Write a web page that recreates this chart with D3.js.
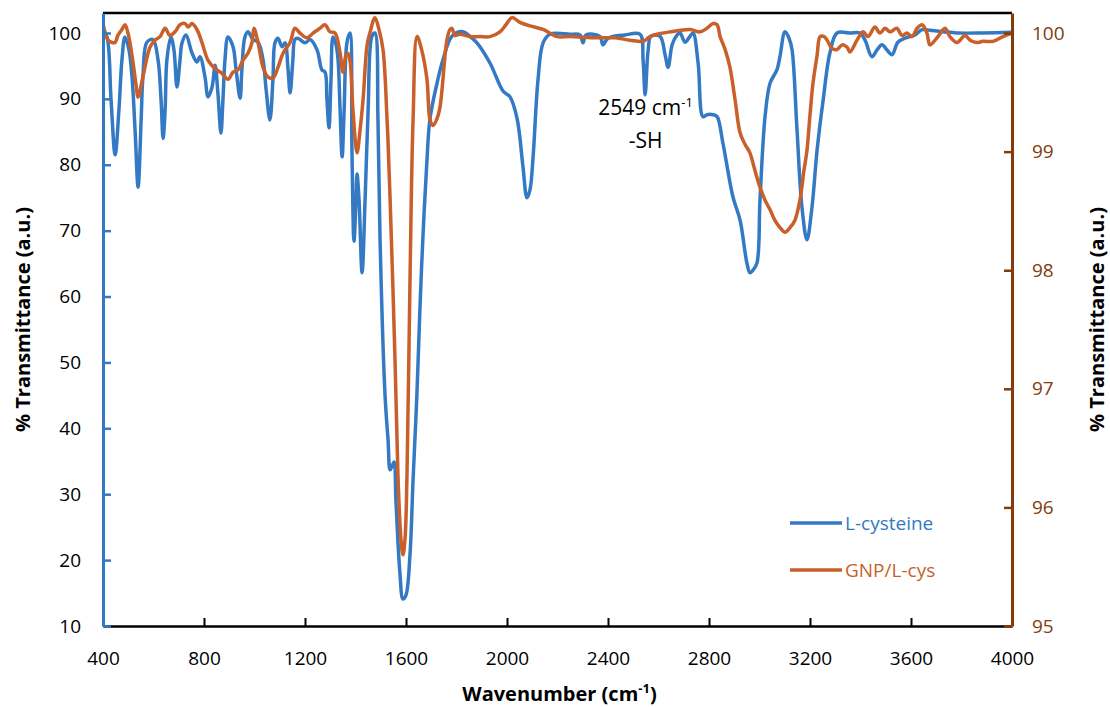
<!DOCTYPE html>
<html>
<head>
<meta charset="utf-8">
<script src="https://cdn.jsdelivr.net/npm/d3@7"></script>
<style>
  body { margin: 0; background: #fff; }
  text { font-family: "Open Sans", "Noto Sans", sans-serif; }
</style>
</head>
<body>
<div id="ftir"></div>
<script>
// FTIR spectra: L-cysteine (left axis) and GNP/L-cys (right axis)

// L-cysteine
const cysWave = [400,416,432,448,463,475,487,503,515,527,539,551,558,574,598,618,630,638,646,653,669,681,693,705,713,729,752,772,784,804,816,832,844,855,867,875,883,895,915,927,943,950,962,974,994,1014,1034,1046,1061,1073,1081,1093,1109,1121,1133,1141,1152,1160,1172,1200,1220,1248,1267,1279,1287,1295,1303,1311,1323,1331,1339,1347,1355,1366,1378,1386,1394,1402,1406,1414,1426,1438,1450,1465,1477,1489,1497,1517,1529,1537,1545,1553,1560,1576,1588,1600,1616,1628,1643,1655,1667,1683,1695,1723,1747,1782,1826,1853,1881,1933,1984,2012,2040,2063,2079,2091,2103,2123,2143,2170,2249,2289,2301,2313,2368,2380,2400,2467,2527,2539,2547,2559,2570,2606,2626,2638,2654,2670,2685,2705,2725,2737,2757,2776,2792,2816,2832,2855,2895,2923,2950,2962,2974,2990,3002,3022,3042,3069,3081,3101,3117,3129,3148,3168,3188,3208,3228,3252,3279,3307,3358,3398,3418,3445,3465,3485,3505,3525,3548,3576,3616,3644,3675,3727,3782,3885,4000];
const cysT = [100.5,99.4,89.8,81.5,88.3,95.9,99.4,97.4,93.3,85.3,76.6,86.8,93.3,98.6,99,95.9,89.8,84,88.3,95.9,99.4,97.4,91.8,95.9,98.5,99.7,97,95.6,96.4,93.3,90.3,91.8,95.1,90.9,84.8,89.8,95.9,99.4,97.9,94.4,90.1,94.4,99.4,100.2,99,98.6,95.9,91.4,86.8,92.9,98.5,99.2,97.9,98.5,94.4,90.9,95.9,99,99.2,98.5,99,97.4,94.4,94.1,89.8,85.6,92.9,99.4,98.2,95.9,88.3,81.2,88.3,98.5,100,82,68.4,74.7,78.6,74.7,63.6,74.7,88.3,99.5,100,86.8,69,45,38.2,33.7,34.3,34.9,29.1,18,14.1,14.7,21,32.2,45,58,69,80.7,87,92.4,96,99.5,100.2,99.5,98.5,95.4,91.2,90.3,87,79.8,75,76.2,81,93,98.5,99.8,99.8,99.7,98.5,99.7,99.5,98.2,99.2,99.7,99.8,95.9,90.6,97.4,99.5,99.5,96.7,94.8,98.2,99.5,100,98.6,99.5,100,95.4,87.3,87.6,87.6,87.3,83.3,75.1,71.6,65.1,63.6,64,65.1,74.7,87.3,92.4,94.4,96.4,100.2,99.2,97.4,85.7,73.6,68.6,73.6,82.2,89.8,97,100,100,100,98.9,96.4,97.4,98.2,97.4,96.7,98.6,99.2,99.7,100.5,100.4,100.2,100,100,100.1];

// GNP/L-cys
const gnpWave = [400,420,436,448,459,475,487,499,519,531,539,558,586,606,626,646,665,685,705,725,737,752,772,792,816,844,871,895,915,935,954,974,990,998,1014,1034,1053,1073,1093,1113,1141,1160,1180,1208,1232,1259,1279,1299,1319,1339,1350,1362,1370,1378,1390,1406,1418,1430,1446,1457,1477,1493,1509,1525,1537,1556,1568,1580,1588,1596,1604,1616,1628,1644,1663,1683,1695,1707,1723,1735,1762,1774,1782,1794,1814,1853,1893,1933,1972,1996,2020,2051,2091,2143,2198,2249,2356,2428,2487,2539,2566,2594,2645,2725,2764,2792,2816,2832,2844,2864,2883,2903,2923,2943,2962,2982,3002,3022,3042,3061,3081,3101,3121,3140,3160,3176,3188,3200,3212,3228,3240,3256,3268,3287,3307,3327,3347,3358,3386,3410,3430,3457,3477,3497,3517,3544,3564,3584,3604,3624,3644,3663,3675,3703,3735,3754,3782,3814,3834,3861,3885,3925,3964,4000];
const gnpT = [100.08,99.94,99.92,99.92,99.98,100.03,100.07,100,99.75,99.56,99.46,99.63,99.88,99.94,99.97,100.04,99.98,100.01,100.07,100.08,100.05,100.08,100.03,99.92,99.77,99.7,99.66,99.61,99.67,99.69,99.77,99.83,99.92,100.04,99.92,99.71,99.63,99.62,99.71,99.83,99.92,100.04,100,99.96,100,100.04,100.07,100.01,100,99.83,99.67,99.81,99.83,99.77,99.35,98.99,99.18,99.44,99.9,100,100.13,100.03,99.86,99.27,98.6,97.28,96.28,95.73,95.6,95.73,96.28,97.94,99.27,99.97,99.85,99.61,99.27,99.22,99.28,99.38,99.94,100.03,100.04,99.98,99.99,99.97,99.97,99.97,100.01,100.07,100.13,100.09,100.06,100.03,99.97,99.97,99.96,99.96,99.94,99.93,99.97,99.99,100.01,100.03,100.01,100.04,100.08,100.07,99.97,99.86,99.71,99.44,99.16,99.06,98.99,98.84,98.7,98.59,98.51,98.42,98.36,98.32,98.36,98.42,98.59,98.84,99.01,99.31,99.58,99.81,99.97,99.97,99.94,99.87,99.86,99.9,99.88,99.84,99.94,100.01,99.97,100.05,100,100.04,100.01,100.04,99.98,100,99.97,100.04,100.07,100,99.9,99.96,100.04,99.97,99.92,99.98,99.94,99.92,99.93,99.93,99.97,100];

const xTicks = [400,800,1200,1600,2000,2400,2800,3200,3600,4000];
const leftTicks = [10,20,30,40,50,60,70,80,90,100];
const rightTicks = [95,96,97,98,99,100];
const seriesNames = ["L-cysteine", "GNP/L-cys"];

const blue = "#3479c4";
const orange = "#c95f2a";
const brown = "#843c0c";

const W = 1110, H = 707;
const plot = {left: 103, right: 1012, top: 13, bottom: 626};

const svg = d3.select("#ftir").append("svg")
    .attr("width", W)
    .attr("height", H);

const x = d3.scaleLinear().domain([400, 4000]).range([plot.left, plot.right]);
const yL = d3.scaleLinear().domain([10, 103.03]).range([plot.bottom, plot.top]);
const yR = d3.scaleLinear().domain([95, 100.169]).range([plot.bottom, plot.top]);

svg.append("clipPath").attr("id", "clip")
  .append("rect")
    .attr("x", plot.left).attr("y", plot.top - 2)
    .attr("width", plot.right - plot.left).attr("height", plot.bottom - plot.top + 2);

// top border
svg.append("line")
    .attr("x1", plot.left).attr("x2", plot.right)
    .attr("y1", plot.top).attr("y2", plot.top)
    .attr("stroke", "#000").attr("stroke-width", 2.5);

// curves
const cysData = cysWave.map((w, i) => [w, cysT[i]]);
const gnpData = gnpWave.map((w, i) => [w, gnpT[i]]);

const g = svg.append("g").attr("clip-path", "url(#clip)");

g.append("path")
    .datum(cysData)
    .attr("fill", "none")
    .attr("stroke", blue)
    .attr("stroke-width", 3.5)
    .attr("stroke-linejoin", "round")
    .attr("d", d3.line().x(d => x(d[0])).y(d => yL(d[1])).curve(d3.curveCatmullRom.alpha(0.5)));

g.append("path")
    .datum(gnpData)
    .attr("fill", "none")
    .attr("stroke", orange)
    .attr("stroke-width", 3.5)
    .attr("stroke-linejoin", "round")
    .attr("d", d3.line().x(d => x(d[0])).y(d => yR(d[1])).curve(d3.curveCatmullRom.alpha(0.5)));

const fmt = d3.format("d");

// bottom axis
const xAxis = svg.append("g")
    .attr("transform", "translate(0," + plot.bottom + ")")
    .call(d3.axisBottom(x).tickValues(xTicks).tickFormat(fmt).tickSizeInner(-8).tickSizeOuter(0).tickPadding(26));
xAxis.select(".domain").attr("stroke", "#000").attr("stroke-width", 2.5);
xAxis.selectAll(".tick line").attr("stroke", "#000").attr("stroke-width", 2);
xAxis.selectAll(".tick text").attr("font-size", 19).attr("fill", "#000")
    .style("font-family", "'Open Sans', sans-serif");

// left axis
const lAxis = svg.append("g")
    .attr("transform", "translate(" + plot.left + ",0)")
    .call(d3.axisLeft(yL).tickValues(leftTicks).tickFormat(fmt).tickSizeInner(-8).tickSizeOuter(0).tickPadding(22));
lAxis.select(".domain").attr("stroke", blue).attr("stroke-width", 3);
lAxis.selectAll(".tick line").attr("stroke", blue).attr("stroke-width", 2.5);
lAxis.selectAll(".tick text").attr("font-size", 19).attr("fill", "#000")
    .style("font-family", "'Open Sans', sans-serif");

// right axis
const rAxis = svg.append("g")
    .attr("transform", "translate(" + plot.right + ",0)")
    .call(d3.axisRight(yR).tickValues(rightTicks).tickFormat(fmt).tickSizeInner(-8).tickSizeOuter(0).tickPadding(20));
rAxis.select(".domain").attr("stroke", brown).attr("stroke-width", 3);
rAxis.selectAll(".tick line").attr("stroke", brown).attr("stroke-width", 2.5);
rAxis.selectAll(".tick text").attr("font-size", 19).attr("fill", brown)
    .style("font-family", "'Open Sans', sans-serif");

// axis titles
const xt = svg.append("text")
    .attr("x", (plot.left + plot.right) / 2 + 2)
    .attr("y", 701)
    .attr("text-anchor", "middle")
    .attr("font-size", 20)
    .attr("font-weight", "bold")
    .attr("fill", "#000");
xt.append("tspan").text("Wavenumber (cm");
xt.append("tspan").attr("font-size", 13).attr("dy", -8).text("-1");
xt.append("tspan").attr("dy", 8).text(")");

svg.append("text")
    .attr("transform", "translate(30," + ((plot.top + plot.bottom) / 2) + ") rotate(-90)")
    .attr("text-anchor", "middle")
    .attr("font-size", 20)
    .attr("font-weight", "bold")
    .text("% Transmittance (a.u.)");

svg.append("text")
    .attr("transform", "translate(1104," + ((plot.top + plot.bottom) / 2) + ") rotate(-90)")
    .attr("text-anchor", "middle")
    .attr("font-size", 20)
    .attr("font-weight", "bold")
    .text("% Transmittance (a.u.)");

// annotation for the -SH band
const ann = svg.append("text")
    .attr("x", x(2549))
    .attr("y", 115)
    .attr("text-anchor", "middle")
    .attr("font-size", 21)
    .attr("fill", "#000");
ann.append("tspan").text("2549 cm");
ann.append("tspan").attr("font-size", 13).attr("dy", -8).text("-1");

svg.append("text")
    .attr("x", x(2549))
    .attr("y", 148)
    .attr("text-anchor", "middle")
    .attr("font-size", 21)
    .attr("fill", "#000")
    .text("-SH");

// legend
const legend = svg.append("g");
[blue, orange].forEach((c, i) => {
    const ly = 523 + i * 47;
    legend.append("line")
        .attr("x1", 790).attr("x2", 842)
        .attr("y1", ly).attr("y2", ly)
        .attr("stroke", c).attr("stroke-width", 3.5);
    legend.append("text")
        .attr("x", 845).attr("y", ly + 7)
        .attr("font-size", 19)
        .attr("fill", c)
        .text(seriesNames[i]);
});
</script>
</body>
</html>
